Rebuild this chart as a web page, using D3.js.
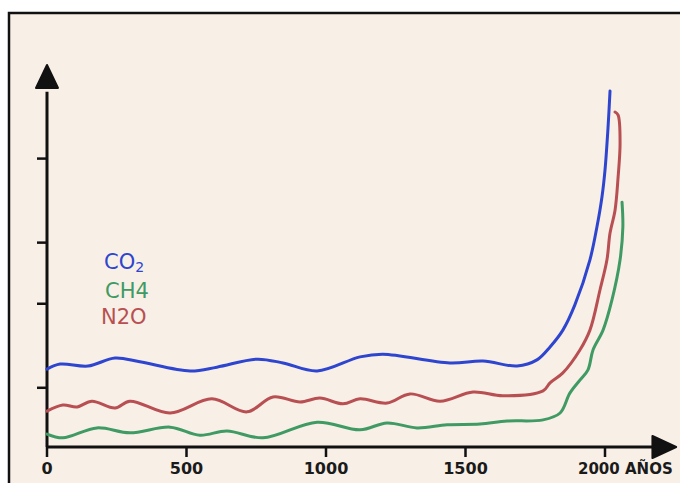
<!DOCTYPE html>
<meta charset="utf-8">
<html>
<head>
    <script src="https://d3js.org/d3.v7.min.js"></script>
    <style>
      body { margin: 0; background: #ffffff; }
      text { font-family: "DejaVu Sans", sans-serif; }
    </style>
</head>
<body>
<div id="chart"></div>

<script>
    // years (x) and relative level (y)
    const co2Years = [0, 47, 147, 244, 333, 513, 609, 753, 846, 968, 1122, 1204, 1444, 1563, 1685, 1756, 1803, 1849, 1892, 1946, 1971, 1989, 2000, 2011, 2018];
    const co2Vals  = [20.4, 21.7, 21.2, 23.3, 22.3, 19.9, 20.9, 23.0, 22.0, 19.9, 23.6, 24.3, 22.0, 22.5, 21.2, 22.8, 26.2, 30.6, 37.2, 49.0, 57.6, 65.4, 72.5, 83.8, 93.2];

    const n2oYears = [0, 57, 108, 161, 244, 297, 441, 591, 717, 810, 907, 978, 1061, 1122, 1219, 1301, 1409, 1527, 1634, 1778, 1803, 1849, 1910, 1946, 1982, 2007, 2018, 2036, 2047, 2054, 2047, 2036];
    const n2oVals  = [9.4, 11.0, 10.5, 12.0, 10.2, 12.0, 8.9, 12.6, 9.2, 13.1, 11.8, 12.8, 11.3, 12.6, 11.5, 13.9, 12.0, 14.4, 13.4, 14.7, 16.8, 19.4, 25.4, 30.6, 41.1, 49.0, 56.0, 62.0, 70.7, 79.6, 86.9, 87.7];

    const ch4Years = [0, 57, 179, 297, 441, 548, 645, 774, 968, 1122, 1219, 1326, 1434, 1552, 1649, 1778, 1839, 1874, 1910, 1939, 1957, 1993, 2025, 2054, 2064, 2061];
    const ch4Vals  = [3.4, 2.4, 5.0, 3.7, 5.2, 3.1, 4.2, 2.4, 6.5, 4.5, 6.3, 5.0, 5.8, 6.0, 6.8, 7.1, 8.9, 14.1, 17.5, 20.2, 25.4, 30.6, 38.5, 49.0, 57.6, 64.1];

    const xTicks = [0, 500, 1000, 1500, 2000];
    const xTickLabels = ["0", "500", "1000", "1500", "2000 AÑOS"];
    const yTicks = [15.5, 37.5, 53.5, 75.5];

    const width = 680, height = 483;

    const svg = d3.select("#chart")
        .append("svg")
        .attr("width", width)
        .attr("height", height);

    // paper
    svg.append("rect")
        .attr("x", 9).attr("y", 13)
        .attr("width", width).attr("height", height)
        .attr("fill", "#f8efe6")
        .attr("stroke", "#111")
        .attr("stroke-width", 2.5);

    const x = d3.scaleLinear().domain([0, 2000]).range([47, 605]);
    const y = d3.scaleLinear().domain([0, 100]).range([447, 65]);

    // y axis with arrow
    svg.append("line")
        .attr("x1", x(0)).attr("x2", x(0))
        .attr("y1", y(0)).attr("y2", y(93))
        .attr("stroke", "#111").attr("stroke-width", 3);
    svg.append("path")
        .attr("d", `M${x(0) - 11},${y(94)} L${x(0)},${y(100)} L${x(0) + 11},${y(94)} Z`)
        .attr("fill", "#111").attr("stroke", "#111").attr("stroke-width", 2).attr("stroke-linejoin", "round");
    svg.selectAll(".ytick")
        .data(yTicks)
        .enter().append("line")
        .attr("x1", x(0) - 10).attr("x2", x(0))
        .attr("y1", d => y(d)).attr("y2", d => y(d))
        .attr("stroke", "#111").attr("stroke-width", 2.5);

    // x axis with arrow
    svg.append("line")
        .attr("x1", x(0)).attr("x2", x(2170))
        .attr("y1", y(0)).attr("y2", y(0))
        .attr("stroke", "#111").attr("stroke-width", 3);
    svg.append("path")
        .attr("d", `M${x(2170)},${y(0) - 11} L${x(2255)},${y(0)} L${x(2170)},${y(0) + 11} Z`)
        .attr("fill", "#111").attr("stroke", "#111").attr("stroke-width", 2).attr("stroke-linejoin", "round");
    svg.selectAll(".xtick")
        .data(xTicks)
        .enter().append("line")
        .attr("x1", d => x(d)).attr("x2", d => x(d))
        .attr("y1", y(0)).attr("y2", y(0) + 10)
        .attr("stroke", "#111").attr("stroke-width", 2.5);
    svg.selectAll(".xlabel")
        .data(xTicks)
        .enter().append("text")
        .attr("x", d => x(d))
        .attr("y", 474)
        .attr("text-anchor", (d, i) => i == xTicks.length - 1 ? "start" : "middle")
        .attr("dx", (d, i) => i == xTicks.length - 1 ? -27 : 0)
        .attr("font-size", (d, i) => i == xTicks.length - 1 ? 15 : 16)
        .attr("font-weight", "bold")
        .attr("fill", "#1a1a1a")
        .text((d, i) => xTickLabels[i]);

    // lines
    const line = d3.line()
        .x(d => x(d[0]))
        .y(d => y(d[1]))
        .curve(d3.curveCatmullRom.alpha(0.5));

    const series = [
        { years: ch4Years, vals: ch4Vals, color: "#3f9a63" },
        { years: n2oYears, vals: n2oVals, color: "#b84f52" },
        { years: co2Years, vals: co2Vals, color: "#2e45cf" }
    ];
    series.forEach(s => {
        svg.append("path")
            .datum(s.years.map((yr, i) => [yr, s.vals[i]]))
            .attr("d", line)
            .attr("fill", "none")
            .attr("stroke", s.color)
            .attr("stroke-width", 3)
            .attr("stroke-linecap", "round")
            .attr("stroke-linejoin", "round");
    });

    // legend
    const leg = svg.append("g").attr("font-size", 21);
    const co2 = leg.append("text").attr("x", 104).attr("y", 269).attr("fill", "#2e45cf");
    co2.append("tspan").text("CO");
    co2.append("tspan").attr("font-size", 14).attr("dy", 3).text("2");
    leg.append("text").attr("x", 105).attr("y", 298).attr("fill", "#3f9a63").text("CH4");
    leg.append("text").attr("x", 101).attr("y", 324).attr("fill", "#b84f52").text("N2O");
</script>
</body>
</html>
